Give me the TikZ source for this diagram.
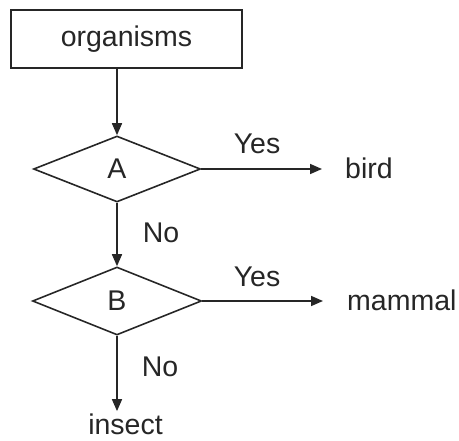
\documentclass[tikz,border=0pt]{standalone}
\usepackage{fontspec}
\setmainfont{Liberation Sans}
\usetikzlibrary{shapes.geometric,arrows.meta}
\begin{document}
\begin{tikzpicture}[x=1pt,y=-1pt,
  every node/.style={font=\fontsize{28.5}{30}\selectfont, text=black!85, inner sep=0pt},
  box/.style={draw=black!85, line width=1.6pt, minimum width=231pt, minimum height=58pt},
  decision/.style={diamond, draw=black!85, line width=1.6pt, minimum width=167pt, minimum height=66pt},
  conn/.style={draw=black!85, line width=1.6pt, -{Triangle[length=12pt,width=10pt]}}]
\useasboundingbox (0,0) rectangle (459,441);
\node[box] (org) at (126.5,39) {organisms};
\node[decision] (A) at (117,169) {A};
\node[decision, minimum width=169pt, minimum height=68pt] (B) at (117,301) {B};
\node[anchor=west] (bird) at (345,168) {bird};
\node[anchor=west] (mammal) at (347,300) {mammal};
\node[anchor=base] (insect) at (125.5,435) {insect};
\node (yesA) at (257,144) {Yes};
\node (yesB) at (257,277) {Yes};
\node (noA) at (161,233) {No};
\node (noB) at (160,367) {No};
\draw[conn] (A.north |- org.south) -- (A.north);
\draw[conn] (A.east) -- ([xshift=-23pt]A.east -| bird.west);
\draw[conn] (A.south) -- (B.north);
\draw[conn] (B.east) -- ([xshift=-24pt]B.east -| mammal.west);
\draw[conn] (B.south) -- ([yshift=3pt]B.south |- insect.north);
\end{tikzpicture}
\end{document}
